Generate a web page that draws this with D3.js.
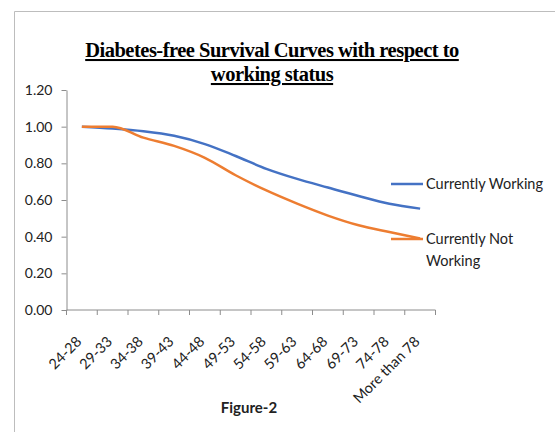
<!DOCTYPE html>
<html>
<head>
<meta charset="utf-8">
<script src="https://cdn.jsdelivr.net/npm/d3@7"></script>
<style>
  body { margin: 0; background: #fff; }
  svg { display: block; }
  .tick text { font-family: Lato, "Open Sans", sans-serif; font-size: 14px; fill: #222; }
  .axis path, .axis line { stroke: #8c8c8c; }
</style>
</head>
<body>
<div id="chart"></div>
<script>
// age groups on the x axis
const ageGroups = ["24-28", "29-33", "34-38", "39-43", "44-48", "49-53",
                   "54-58", "59-63", "64-68", "69-73", "74-78", "More than 78"];
// survival proportions
const working    = [1.00, 0.99, 0.975, 0.95, 0.905, 0.84, 0.77, 0.715, 0.668, 0.622, 0.58, 0.553];
const notWorking = [1.00, 1.00, 0.94, 0.895, 0.83, 0.735, 0.652, 0.58, 0.515, 0.462, 0.425, 0.39];
const yTicks = [0, 0.2, 0.4, 0.6, 0.8, 1.0, 1.2];

const series = [
  {name: ["Currently Working"], values: working, color: "#4472c4"},
  {name: ["Currently Not", "Working"], values: notWorking, color: "#ed7d31"}
];

const width = 555, height = 432;
const m = {top: 90, right: 120, bottom: 122, left: 66};

const svg = d3.select("#chart").append("svg")
  .attr("width", width)
  .attr("height", height);

// chart area frame
svg.append("path")
  .attr("d", "M14.5," + height + "V11.5H" + width)
  .attr("fill", "none")
  .attr("stroke", "#bdbdbd");

const x = d3.scaleBand()
  .domain(ageGroups)
  .range([m.left + 0.5, 435.5]);

const y = d3.scaleLinear()
  .domain([0, 1.2])
  .range([height - m.bottom, m.top]);

const xAxis = svg.append("g")
  .attr("class", "x axis")
  .attr("transform", "translate(0," + y(0) + ")")
  .call(d3.axisBottom(x).tickSize(0).tickFormat(""));

xAxis.select(".domain").attr("d", "M" + x.range()[0] + ",0H" + x.range()[1]);

// excel style ticks sit between categories
xAxis.selectAll("line.sep")
  .data(d3.range(ageGroups.length + 1))
  .enter().append("line")
  .attr("class", "sep")
  .attr("x1", (i) => x.range()[0] + i * x.step())
  .attr("x2", (i) => x.range()[0] + i * x.step())
  .attr("y1", 0)
  .attr("y2", 5)
  .attr("stroke", "#8c8c8c");

svg.append("g")
  .selectAll("text")
  .data(ageGroups)
  .enter().append("text")
  .attr("transform", (d) => "translate(" + (x(d) + x.bandwidth() / 2 - 3) + "," + (y(0) + 29) + ") rotate(-45)")
  .attr("text-anchor", "end")
  .attr("dy", "0.35em")
  .style("font-family", "Lato, 'Open Sans', sans-serif")
  .style("font-size", "14.5px")
  .style("fill", "#222")
  .text((d) => d);

const yAxis = svg.append("g")
  .attr("class", "y axis")
  .attr("transform", "translate(" + (m.left + 0.5) + ",0)")
  .call(d3.axisLeft(y).tickValues(yTicks).tickFormat(d3.format(".2f")).tickSize(5).tickSizeOuter(0).tickPadding(9));

const line = d3.line()
  .x((d, i) => x(ageGroups[i]) + x.bandwidth() / 2)
  .y((d) => y(d))
  .curve(d3.curveMonotoneX);

svg.selectAll("path.series")
  .data(series)
  .enter().append("path")
  .attr("class", "series")
  .attr("d", (d) => line(d.values))
  .attr("fill", "none")
  .attr("stroke", (d) => d.color)
  .attr("stroke-width", 2.5);

// legend
const legY = [184, 239];
const leg = svg.selectAll("g.legend")
  .data(series)
  .enter().append("g")
  .attr("class", "legend")
  .attr("transform", (d, i) => "translate(391," + legY[i] + ")");

leg.append("line")
  .attr("x1", 0).attr("x2", 32)
  .attr("stroke", (d) => d.color)
  .attr("stroke-width", 2.5);

leg.append("text")
  .attr("x", 35)
  .style("font-family", "Lato, 'Open Sans', sans-serif")
  .style("font-size", "14.5px")
  .style("fill", "#222")
  .selectAll("tspan")
  .data((d) => d.name)
  .enter().append("tspan")
  .attr("x", 35)
  .attr("y", (d, i) => i * 22)
  .attr("dy", "0.35em")
  .text((d) => d);

// title
svg.append("text")
  .attr("x", 272)
  .attr("y", 57)
  .attr("text-anchor", "middle")
  .style("font-family", "'Liberation Serif', serif")
  .style("font-weight", "bold")
  .style("font-size", "20.5px")
  .style("text-decoration", "underline")
  .style("letter-spacing", "-0.5px")
  .selectAll("tspan")
  .data(["Diabetes-free Survival Curves with respect to", "working status"])
  .enter().append("tspan")
  .attr("x", 272)
  .attr("dy", (d, i) => i ? 24 : 0)
  .text((d) => d);

svg.append("text")
  .attr("x", 249)
  .attr("y", 413)
  .attr("text-anchor", "middle")
  .style("font-family", "Lato, 'Open Sans', sans-serif")
  .style("font-weight", "bold")
  .style("font-size", "15px")
  .style("fill", "#222")
  .text("Figure-2");
</script>
</body>
</html>
